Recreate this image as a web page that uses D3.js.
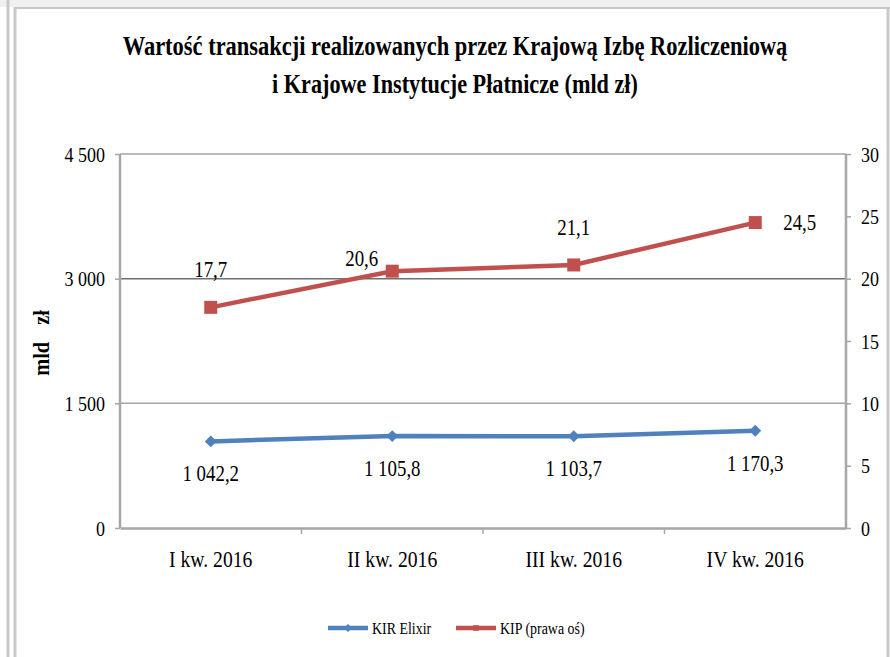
<!DOCTYPE html>
<html>
<head>
<meta charset="utf-8">
<script src="https://cdn.jsdelivr.net/npm/d3@7"></script>
<style>
  body { margin: 0; background: #fff; }
  text { font-family: "Liberation Serif", "Times New Roman", serif; fill: #000; }
</style>
</head>
<body>
<svg id="chart" width="890" height="657" font-family="Liberation Serif"></svg>
<script>
// quarters and the two series (KIR on the left axis, KIP on the right one)
const categories = ["I kw. 2016", "II kw. 2016", "III kw. 2016", "IV kw. 2016"];
const kirElixir = [1042.2, 1105.8, 1103.7, 1170.3];
const kipValues = [17.7, 20.6, 21.1, 24.5];
const leftTicks = [0, 1500, 3000, 4500];
const rightTicks = [0, 5, 10, 15, 20, 25, 30];
const kipLabelSide = ["above", "left", "above", "right"];
const titleLines = [
  "Wartość transakcji realizowanych przez Krajową Izbę Rozliczeniową",
  "i Krajowe Instytucje Płatnicze (mld zł)"
];
const seriesNames = ["KIR Elixir", "KIP (prawa oś)"];

const blue = "#4f81bd", red = "#c0504d";
const SX = 0.82; // the source font is a narrow Times

const pl = d3.formatLocale({ decimal: ",", thousands: " ", grouping: [3], currency: ["", " zł"] });
const fmtTick = pl.format(",d");
const fmtVal = pl.format(",.1f");

const svg = d3.select("#chart");

// window frame like the screenshot
svg.append("rect").attr("x", 0).attr("y", 0).attr("width", 890).attr("height", 7).attr("fill", "#f0f0f0");
svg.append("line").attr("x1", 8).attr("x2", 8).attr("y1", 0).attr("y2", 657).attr("stroke", "#c8c8c8").attr("stroke-width", 3);
svg.append("line").attr("x1", 15).attr("x2", 15).attr("y1", 7).attr("y2", 657).attr("stroke", "#c8c8c8").attr("stroke-width", 3);
svg.append("line").attr("x1", 15).attr("x2", 890).attr("y1", 8).attr("y2", 8).attr("stroke", "#c8c8c8").attr("stroke-width", 2);
svg.append("line").attr("x1", 888).attr("x2", 888).attr("y1", 8).attr("y2", 657).attr("stroke", "#c8c8c8").attr("stroke-width", 3);

const plot = { left: 120, right: 846, top: 154, bottom: 528 };

const x = d3.scaleBand().domain(categories).range([plot.left, plot.right]);
const yL = d3.scaleLinear().domain([0, 4500]).range([plot.bottom, plot.top]);
const yR = d3.scaleLinear().domain([0, 30]).range([plot.bottom, plot.top]);

// make text narrow by scaling it horizontally around its anchor
function narrow(sel, sx = SX) {
  sel.each(function () {
    const t = d3.select(this);
    const x0 = +t.attr("x") || 0, y0 = +t.attr("y") || 0;
    const k = typeof sx === "function" ? sx(this) : sx;
    t.attr("x", 0).attr("y", 0).attr("transform", `translate(${x0},${y0}) scale(${k},1)`);
  });
}

// title, scaled to the width it has in the picture
const titleWidths = [665, 366];
svg.selectAll(".title").data(titleLines).join("text")
  .attr("class", "title")
  .attr("x", 455).attr("y", (d, i) => 55 + i * 38)
  .attr("text-anchor", "middle")
  .attr("font-size", 27).attr("font-weight", "bold")
  .text(d => d)
  .call(narrow, el => Math.min(1, titleWidths[titleLines.indexOf(el.textContent)] / el.getComputedTextLength()));

// gridlines
svg.append("g").selectAll("line").data(leftTicks.filter(d => d > 0)).join("line")
  .attr("x1", plot.left).attr("x2", plot.right)
  .attr("y1", d => yL(d)).attr("y2", d => yL(d))
  .attr("stroke", d => d === 3000 ? "#6e6e6e" : "#a6a6a6").attr("stroke-width", 1.5);

// axes
const axisL = svg.append("g").attr("transform", `translate(${plot.left},0)`)
  .call(d3.axisLeft(yL).tickValues(leftTicks).tickFormat(fmtTick).tickSize(5).tickPadding(10));
const axisR = svg.append("g").attr("transform", `translate(${plot.right},0)`)
  .call(d3.axisRight(yR).tickValues(rightTicks).tickSize(5).tickPadding(10));
const axisB = svg.append("g").attr("transform", `translate(0,${plot.bottom})`)
  .call(d3.axisBottom(x).tickSize(0).tickPadding(22));

[axisL, axisR, axisB].forEach(g => {
  g.attr("font-family", null);
  g.select(".domain").attr("stroke", "#a6a6a6").attr("stroke-width", 2.5);
  g.selectAll(".tick line").attr("stroke", "#a6a6a6").attr("stroke-width", 1.5);
  g.selectAll(".tick text").attr("font-size", 22).attr("fill", "#000").call(narrow);
});
axisB.selectAll(".tick text").attr("font-size", 24);
axisL.select(".domain").attr("d", `M0,${plot.top}V${plot.bottom}`);
axisR.select(".domain").attr("d", `M0,${plot.top}V${plot.bottom}`);

// category separator ticks on the bottom axis
svg.append("g").selectAll("line").data(categories.slice(1)).join("line")
  .attr("x1", d => x(d)).attr("x2", d => x(d))
  .attr("y1", plot.bottom).attr("y2", plot.bottom + 6)
  .attr("stroke", "#a6a6a6").attr("stroke-width", 1.5);

const cx = d => x(d) + x.bandwidth() / 2;

// KIR Elixir line (left axis)
svg.append("path")
  .datum(kirElixir)
  .attr("fill", "none").attr("stroke", blue).attr("stroke-width", 4.5)
  .attr("d", d3.line().x((d, i) => cx(categories[i])).y(d => yL(d)));
svg.append("g").selectAll("path").data(kirElixir).join("path")
  .attr("transform", (d, i) => `translate(${cx(categories[i])},${yL(d)})`)
  .attr("d", d3.symbol(d3.symbolDiamond2, 90))
  .attr("fill", blue);
svg.append("g").selectAll("text").data(kirElixir).join("text")
  .attr("x", (d, i) => cx(categories[i]))
  .attr("y", d => yL(d) + 40)
  .attr("text-anchor", "middle").attr("font-size", 23)
  .text(d => fmtVal(d))
  .call(narrow);

// KIP line (right axis)
svg.append("path")
  .datum(kipValues)
  .attr("fill", "none").attr("stroke", red).attr("stroke-width", 4.5)
  .attr("d", d3.line().x((d, i) => cx(categories[i])).y(d => yR(d)));
svg.append("g").selectAll("rect").data(kipValues).join("rect")
  .attr("x", (d, i) => cx(categories[i]) - 6.5)
  .attr("y", d => yR(d) - 6.5)
  .attr("width", 13).attr("height", 13)
  .attr("fill", red);
svg.append("g").selectAll("text").data(kipValues).join("text")
  .attr("x", (d, i) => {
    const side = kipLabelSide[i];
    return cx(categories[i]) + (side === "left" ? -14 : side === "right" ? 28 : 0);
  })
  .attr("y", (d, i) => yR(d) + (kipLabelSide[i] === "above" ? -30 : kipLabelSide[i] === "left" ? -5 : 7))
  .attr("text-anchor", (d, i) => kipLabelSide[i] === "left" ? "end" : kipLabelSide[i] === "right" ? "start" : "middle")
  .attr("font-size", 23)
  .text(d => fmtVal(d))
  .call(narrow);

// y axis title
svg.append("text")
  .attr("transform", "translate(49,343) rotate(-90) scale(0.85,1)")
  .attr("text-anchor", "middle")
  .attr("font-size", 24).attr("font-weight", "bold")
  .attr("word-spacing", 14)
  .text("mld zł");

// legend
const legend = svg.append("g").attr("transform", "translate(328,628)");
const items = legend.selectAll("g").data(seriesNames).join("g")
  .attr("transform", (d, i) => `translate(${i * 128},0)`);
items.append("line").attr("x1", 0).attr("x2", 40).attr("y1", 0).attr("y2", 0)
  .attr("stroke", (d, i) => i === 0 ? blue : red).attr("stroke-width", 4.5);
items.append("path")
  .attr("transform", "translate(20,0)")
  .attr("d", (d, i) => d3.symbol(i === 0 ? d3.symbolDiamond2 : d3.symbolSquare2, 40)())
  .attr("fill", (d, i) => i === 0 ? blue : red);
items.append("text").attr("x", 44).attr("y", 6).attr("font-size", 17).text(d => d).call(narrow);
</script>
</body>
</html>
